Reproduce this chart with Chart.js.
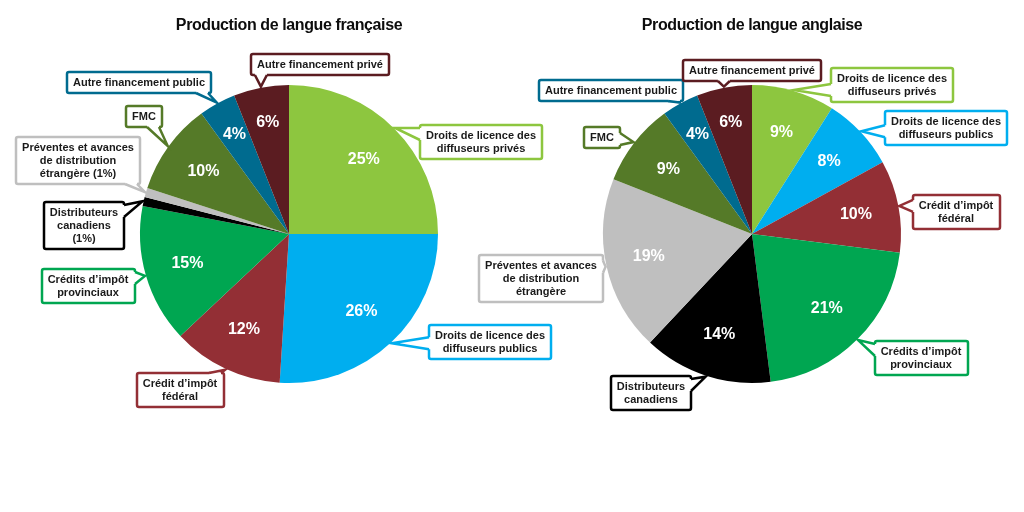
<!DOCTYPE html>
<html>
<head>
<meta charset="utf-8">
<script src="https://cdn.jsdelivr.net/npm/chart.js@4/dist/chart.umd.min.js"></script>
<style>
  html, body { margin: 0; padding: 0; background: #ffffff; }
  #wrap { position: relative; width: 1024px; height: 512px; }
  canvas { position: absolute; left: 0; top: 0; }
</style>
</head>
<body>
<div id="wrap">
  <canvas id="fr" width="1024" height="512"></canvas>
  <canvas id="en" width="1024" height="512"></canvas>
</div>
<script>
// ---- Data ----
const titleFr = 'Production de langue française';
const titleEn = 'Production de langue anglaise';

const categoriesFr = [
  ['Droits de licence des', 'diffuseurs privés'],
  ['Droits de licence des', 'diffuseurs publics'],
  ['Crédit d’impôt', 'fédéral'],
  ['Crédits d’impôt', 'provinciaux'],
  ['Distributeurs', 'canadiens', '(1%)'],
  ['Préventes et avances', 'de distribution', 'étrangère (1%)'],
  ['FMC'],
  ['Autre financement public'],
  ['Autre financement privé']
];
const valuesFr = [25, 26, 12, 15, 1, 1, 10, 4, 6];

const categoriesEn = [
  ['Droits de licence des', 'diffuseurs privés'],
  ['Droits de licence des', 'diffuseurs publics'],
  ['Crédit d’impôt', 'fédéral'],
  ['Crédits d’impôt', 'provinciaux'],
  ['Distributeurs', 'canadiens'],
  ['Préventes et avances', 'de distribution', 'étrangère'],
  ['FMC'],
  ['Autre financement public'],
  ['Autre financement privé']
];
const valuesEn = [9, 8, 10, 21, 14, 19, 9, 4, 6];

// ---- Styles / layout ----
const sliceColors = ['#8DC63F', '#00AEEF', '#932F35', '#00A651', '#000000', '#BFBFBF', '#557A28', '#006B8F', '#5B1C21'];
const calloutCentersFr = [[481,142],[490,342],[180,390],[88,286],[84,225],[78,160],[144,116],[139,82],[320,64]];
const calloutCentersEn = [[892,85],[946,128],[956,212],[921,358],[651,393],[541,278],[602,137],[611,90],[752,70]];
const FONT = '"Liberation Sans", Arial, Helvetica, sans-serif';

function clamp(v, a, b) { return Math.max(a, Math.min(b, v)); }

function drawCallout(ctx, lines, cx, cy, tip, color) {
  ctx.save();
  ctx.font = 'bold 11px ' + FONT;
  const lh = 13, padH = 6, padV = 4;
  let tw = 0;
  lines.forEach(l => { tw = Math.max(tw, ctx.measureText(l).width); });
  const w = Math.round(tw + 2 * padH), h = lines.length * lh + 2 * padV;
  const x0 = Math.round(cx - w / 2), y0 = Math.round(cy - h / 2), x1 = x0 + w, y1 = y0 + h;
  const nx = clamp(tip.x, x0, x1), ny = clamp(tip.y, y0, y1);
  const dx = tip.x - nx, dy = tip.y - ny;
  let side;
  if (Math.abs(dx) > Math.abs(dy)) side = dx > 0 ? 'right' : 'left';
  else side = dy > 0 ? 'bottom' : 'top';
  const half = 6, m = 3;
  let b1, b2, inx = 0, iny = 0;
  if (side === 'bottom' || side === 'top') {
    const yE = side === 'bottom' ? y1 : y0;
    const c = clamp(tip.x, x0 + m + half, x1 - m - half);
    b1 = {x: c - half, y: yE}; b2 = {x: c + half, y: yE};
    iny = side === 'bottom' ? -2 : 2;
  } else {
    const xE = side === 'right' ? x1 : x0;
    const c = clamp(tip.y, y0 + m + half, y1 - m - half);
    b1 = {x: xE, y: c - half}; b2 = {x: xE, y: c + half};
    inx = side === 'right' ? -2 : 2;
  }
  ctx.lineWidth = 2.5;
  ctx.strokeStyle = color;
  ctx.fillStyle = '#ffffff';
  ctx.lineJoin = 'miter';
  ctx.beginPath();
  ctx.roundRect(x0, y0, w, h, 2);
  ctx.fill();
  ctx.stroke();
  // wedge
  ctx.beginPath();
  ctx.moveTo(b1.x + inx, b1.y + iny);
  ctx.lineTo(b1.x, b1.y);
  ctx.lineTo(tip.x, tip.y);
  ctx.lineTo(b2.x, b2.y);
  ctx.lineTo(b2.x + inx, b2.y + iny);
  ctx.closePath();
  ctx.fill();
  ctx.beginPath();
  ctx.moveTo(b1.x, b1.y);
  ctx.lineTo(tip.x, tip.y);
  ctx.lineTo(b2.x, b2.y);
  ctx.stroke();
  // text
  ctx.fillStyle = '#1a1a1a';
  ctx.textAlign = 'center';
  ctx.textBaseline = 'middle';
  lines.forEach((l, i) => ctx.fillText(l, cx, y0 + padV + lh * (i + 0.5) + 0.5));
  ctx.restore();
}

const calloutPlugin = {
  id: 'callouts',
  afterDatasetsDraw(chart, args, opts) {
    const ctx = chart.ctx;
    const meta = chart.getDatasetMeta(0);
    const vals = chart.data.datasets[0].data;
    ctx.save();
    ctx.font = 'bold 16px ' + FONT;
    ctx.fillStyle = '#ffffff';
    ctx.textAlign = 'center';
    ctx.textBaseline = 'middle';
    meta.data.forEach((arc, i) => {
      if (vals[i] < 2) return;
      const p = arc.getProps(['x','y','startAngle','endAngle','outerRadius'], true);
      const a = (p.startAngle + p.endAngle) / 2;
      const r = p.outerRadius * (vals[i] < 7 ? 0.76 : 0.71);
      ctx.fillText(vals[i] + '%', p.x + Math.cos(a) * r, p.y + Math.sin(a) * r);
    });
    ctx.restore();
  },
  afterDraw(chart, args, opts) {
    const ctx = chart.ctx;
    const meta = chart.getDatasetMeta(0);
    const first = meta.data[0].getProps(['x','y','outerRadius'], true);
    // title
    ctx.save();
    ctx.font = 'bold 16px ' + FONT;
    if ('letterSpacing' in ctx) ctx.letterSpacing = '-0.4px';
    ctx.fillStyle = '#0d0d0d';
    ctx.textAlign = 'center';
    ctx.textBaseline = 'middle';
    ctx.fillText(opts.title, first.x, 26);
    ctx.restore();
    // callouts
    meta.data.forEach((arc, i) => {
      const p = arc.getProps(['x','y','startAngle','endAngle','outerRadius'], true);
      const a = (p.startAngle + p.endAngle) / 2;
      const tip = {x: p.x + Math.cos(a) * (p.outerRadius + 1), y: p.y + Math.sin(a) * (p.outerRadius + 1)};
      const c = opts.centers[i];
      drawCallout(ctx, chart.data.labels[i], c[0], c[1], tip, sliceColors[i]);
    });
  }
};

function makePie(id, labels, values, padding, title, centers) {
  return new Chart(document.getElementById(id), {
    type: 'pie',
    data: {
      labels: labels,
      datasets: [{
        data: values,
        backgroundColor: sliceColors,
        borderWidth: 0,
        offset: 0,
        hoverOffset: 0
      }]
    },
    options: {
      responsive: false,
      animation: false,
      devicePixelRatio: 1,
      layout: { padding: padding },
      events: [],
      plugins: {
        legend: { display: false },
        tooltip: { enabled: false },
        title: { display: false },
        callouts: { title: title, centers: centers }
      }
    },
    plugins: [calloutPlugin]
  });
}

makePie('fr', categoriesFr, valuesFr, {left: 140, right: 586, top: 85, bottom: 129}, titleFr, calloutCentersFr);
makePie('en', categoriesEn, valuesEn, {left: 603, right: 123, top: 85, bottom: 129}, titleEn, calloutCentersEn);
</script>
</body>
</html>
